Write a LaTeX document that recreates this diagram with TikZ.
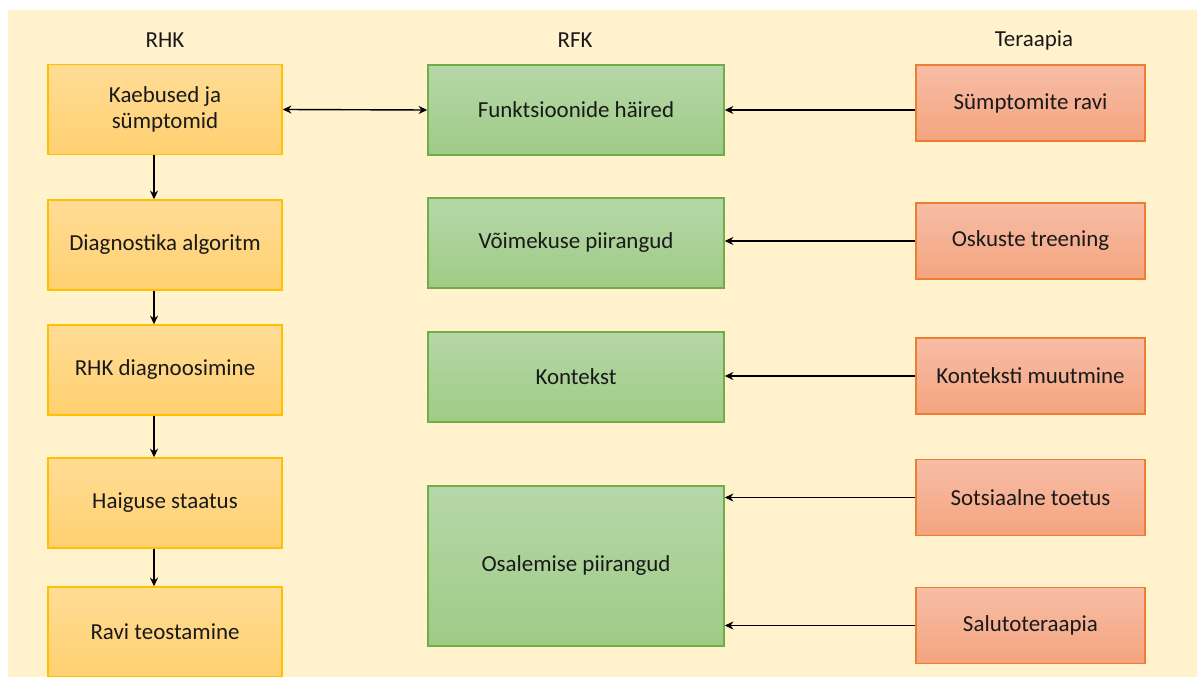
\documentclass[tikz,border=0pt]{standalone}
\usepackage{fontspec}
\setmainfont{Carlito}
\usetikzlibrary{arrows.meta}
\definecolor{bgc}{HTML}{FFF2CC}
\definecolor{ltop}{HTML}{FFDC96}
\definecolor{lbot}{HTML}{FFD070}
\definecolor{lbrd}{HTML}{FFC000}
\definecolor{mtop}{HTML}{B6D7A8}
\definecolor{mbot}{HTML}{9FCB86}
\definecolor{mbrd}{HTML}{70AD47}
\definecolor{rtop}{HTML}{F7BDA6}
\definecolor{rbot}{HTML}{F4A47F}
\definecolor{rbrd}{HTML}{ED7D31}
\tikzset{
  boxbase/.style={rectangle, line width=1.1pt, inner sep=2pt, align=center,
    font=\fontsize{17.2}{20}\selectfont, text=black!90},
  lbox/.style={boxbase, draw=lbrd, top color=ltop, bottom color=lbot,
    minimum width=175.5pt, minimum height=67.5pt},
  mbox/.style={boxbase, draw=mbrd, top color=mtop, bottom color=mbot,
    minimum width=222pt, minimum height=67.5pt},
  rbox/.style={boxbase, draw=rbrd, top color=rtop, bottom color=rbot,
    minimum width=171.75pt, minimum height=57pt},
  head/.style={font=\fontsize{17.2}{20}\selectfont, text=black!90},
  conn/.style={line width=1.05pt, -{Stealth[length=6.5pt,width=6pt]}},
  dconn/.style={line width=1.05pt, {Stealth[length=6.5pt,width=6pt]}-{Stealth[length=6.5pt,width=6pt]}}
}
\begin{document}
\begin{tikzpicture}[x=0.75pt,y=-0.75pt]
\useasboundingbox (0,0) rectangle (1197,677);
\fill[bgc] (8,10) rectangle (1197,677);

\node[head] (hl) at (165,40) {RHK};
\node[head] (hm) at (575,40) {RFK};
\node[head] (hr) at (1034,40) {Teraapia};

\node[lbox] (l1) at (165,109.5) {Kaebused ja\\sümptomid};
\node[lbox] (l2) at (165,245) {Diagnostika algoritm};
\node[lbox] (l3) at (165,370) {RHK diagnoosimine};
\node[lbox] (l4) at (165,503) {Haiguse staatus};
\node[lbox] (l5) at (165,632) {Ravi teostamine};

\node[mbox] (m1) at (576,110) {Funktsioonide häired};
\node[mbox] (m2) at (576,243) {Võimekuse piirangud};
\node[mbox] (m3) at (576,377) {Kontekst};
\node[mbox, minimum height=120pt] (m4) at (576,566) {Osalemise piirangud};

\node[rbox] (r1) at (1030.5,103) {Sümptomite ravi};
\node[rbox] (r2) at (1030.5,241) {Oskuste treening};
\node[rbox] (r3) at (1030.5,376) {Konteksti muutmine};
\node[rbox] (r4) at (1030.5,497.5) {Sotsiaalne toetus};
\node[rbox] (r5) at (1030.5,625.5) {Salutoteraapia};

\draw[conn] ([xshift=-8.25pt]l1.south) -- ([xshift=-8.25pt]l2.north);
\draw[conn] ([xshift=-8.25pt]l2.south) -- ([xshift=-8.25pt]l3.north);
\draw[conn] ([xshift=-8.25pt]l3.south) -- ([xshift=-8.25pt]l4.north);
\draw[conn] ([xshift=-8.25pt]l4.south) -- ([xshift=-8.25pt]l5.north);

\draw[dconn] (l1.east) -- (m1.west);

\draw[conn] (r1.west |- m1.east) -- (m1.east);
\draw[conn] (r2.west) -- (r2.west -| m2.east);
\draw[conn] (r3.west) -- (r3.west -| m3.east);
\draw[conn] (r4.west) -- (r4.west -| m4.east);
\draw[conn] (r5.west) -- (r5.west -| m4.east);
\end{tikzpicture}
\end{document}
